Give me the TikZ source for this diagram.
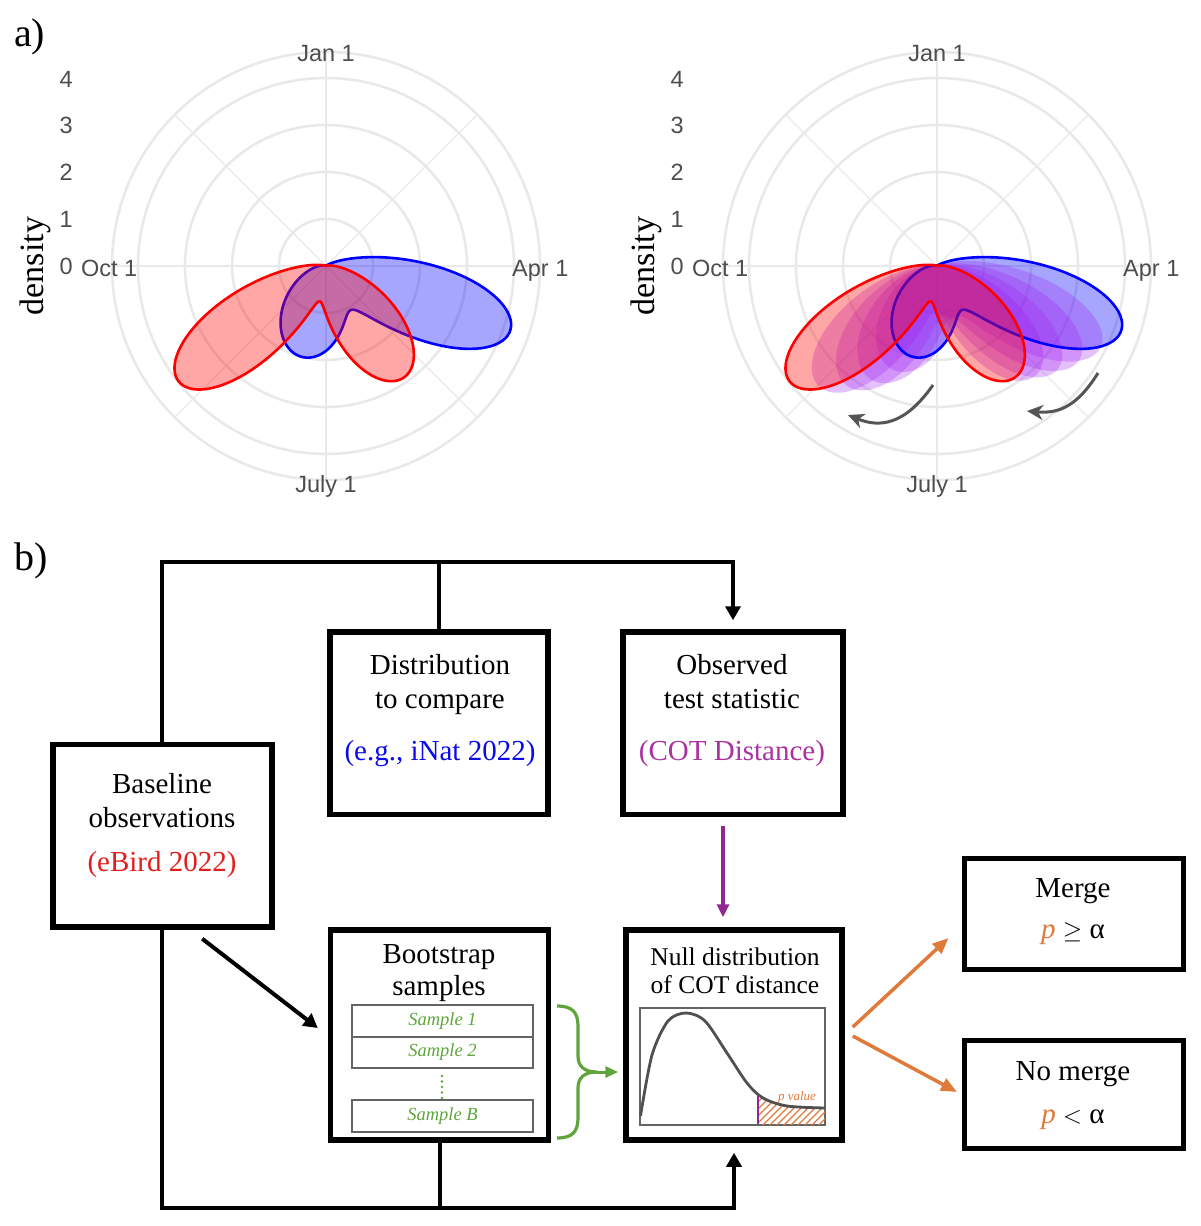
\documentclass[tikz,border=0pt]{standalone}
\usepackage{fontspec}
\setmainfont{Liberation Serif}
\newfontfamily\plotfont{Liberation Sans}
\usetikzlibrary{arrows.meta,calc}

\definecolor{gridc}{RGB}{233,233,233}
\definecolor{labc}{RGB}{77,77,77}
\definecolor{rpurple}{HTML}{A020F0}
\definecolor{txtred}{RGB}{225,30,30}
\definecolor{txtblue}{RGB}{10,10,235}
\definecolor{txtpurp}{RGB}{170,50,160}
\definecolor{grn}{RGB}{95,165,60}
\definecolor{org}{RGB}{224,122,58}
\definecolor{arrpurp}{RGB}{145,40,145}
\definecolor{boxgray}{RGB}{100,100,100}
\definecolor{curvegray}{RGB}{80,80,80}
\definecolor{arrgray}{RGB}{85,85,85}

\begin{document}
\begin{tikzpicture}[x=1pt,y=-1pt,
  declare function={
    gb(\vu,\vm,\vs)=exp(-min(0.5*((\vu-\vm)/\vs)*((\vu-\vm)/\vs),16));
    rb(\vu)=192*gb(\vu,109,17.8)+94*gb(\vu,195,33);
    rr(\vu)=136*gb(\vu,145,23.5)+187*gb(\vu,232,18.5);
    rm(\vu,\vt)=(192-56*\vt)*gb(\vu,109+36*\vt,17.8+5.7*\vt)+(94+93*\vt)*gb(\vu,195+37*\vt,33-14.5*\vt);
  },
  plab/.style={inner sep=0pt, text=labc, font=\plotfont\fontsize{23.5}{24}\selectfont},
  panel/.style={inner sep=0pt, font=\fontsize{40}{40}\selectfont},
  box/.style={draw, line width=5.5pt, minimum width=219pt, inner sep=0pt},
  txt/.style={anchor=base, inner sep=0pt, font=\fontsize{29}{34}\selectfont},
  smalltxt/.style={anchor=base, inner sep=0pt, font=\fontsize{25.5}{30}\selectfont},
  sbox/.style={draw=boxgray, line width=2.2pt, minimum width=181pt, inner sep=0pt, text=grn, font=\itshape\fontsize{18.5}{20}\selectfont},
  conn/.style={line width=4pt},
  arrk/.style={-{Triangle[length=14pt,width=15pt]}},
  garr/.style={arrgray, line width=3pt, -{Stealth[length=16pt,width=15pt,inset=5pt]}},
  oarr/.style={org, line width=3.5pt, -{Triangle[length=16pt,width=13pt]}},
]
\useasboundingbox (0,0) rectangle (1200,1226);

% panel labels
\node[panel, anchor=base west] (la) at (14,46) {a)};
\node[panel, anchor=base west] (lb) at (14,570) {b)};

% ---------- polar grids and labels ----------
\foreach \cx/\pn in {326/p, 937/q} {
  \foreach \r in {47,94,141,188,214}
    \draw[gridc, line width=2.6pt] (\cx,266) circle[radius=\r];
  \draw[gridc, line width=2.6pt] ({\cx-214},266) -- ({\cx+214},266);
  \draw[gridc, line width=2.6pt] (\cx,52) -- (\cx,480);
  \draw[gridc, line width=1.2pt] ({\cx-151.3},114.7) -- ({\cx+151.3},417.3);
  \draw[gridc, line width=1.2pt] ({\cx+151.3},114.7) -- ({\cx-151.3},417.3);
  \node[plab, anchor=base] (jan\pn) at (\cx,61) {Jan 1};
  \node[plab, anchor=base west] (apr\pn) at ({\cx+186},276) {Apr 1};
  \node[plab, anchor=base] (jul\pn) at (\cx,492) {July 1};
  \node[plab, anchor=base east] (oct\pn) at ({\cx-188.5},276) {Oct 1};
  \foreach \k/\yy in {0/274,1/227,2/180,3/133,4/87}
    \node[plab, anchor=base east] (r\k\pn) at ({\cx-253},\yy) {\k};
  \node[rotate=90, inner sep=0pt, font=\fontsize{34}{34}\selectfont] (dens\pn) at ({\cx-291},266) {density};
}

% ---------- plot 1 shapes ----------
\filldraw[draw=blue, fill=blue, fill opacity=0.35, line width=2.6pt, line join=round]
  plot[domain=55:300, samples=246, variable=\x] ({326+rb(\x)*sin(\x)},{266-rb(\x)*cos(\x)}) -- cycle;
\filldraw[draw=red, fill=red, fill opacity=0.35, line width=2.6pt, line join=round]
  plot[domain=55:300, samples=246, variable=\x] ({326+rr(\x)*sin(\x)},{266-rr(\x)*cos(\x)}) -- cycle;

% ---------- plot 2 shapes ----------
\fill[blue, fill opacity=0.35]
  plot[domain=55:300, samples=246, variable=\x] ({937+rb(\x)*sin(\x)},{266-rb(\x)*cos(\x)}) -- cycle;
\foreach \tt in {0.2,0.4,0.6,0.8} {
  \fill[rpurple, fill opacity=0.28]
    plot[domain=55:300, samples=246, variable=\x] ({937+rm(\x,\tt)*sin(\x)},{266-rm(\x,\tt)*cos(\x)}) -- cycle;
}
\draw[blue, line width=2.6pt, line join=round]
  plot[domain=55:300, samples=246, variable=\x] ({937+rb(\x)*sin(\x)},{266-rb(\x)*cos(\x)}) -- cycle;
\filldraw[draw=red, fill=red, fill opacity=0.35, line width=2.6pt, line join=round]
  plot[domain=55:300, samples=246, variable=\x] ({937+rr(\x)*sin(\x)},{266-rr(\x)*cos(\x)}) -- cycle;

\draw[garr] (933,385) .. controls (905,425) and (880,428) .. (848,415);
\draw[garr] (1098,373) .. controls (1078,405) and (1060,414) .. (1027,411);

% ---------- part b boxes ----------
\node[box, minimum height=182.5pt] (base) at (162.25,835.75) {};
\node[box, minimum height=182.5pt, minimum width=218pt] (dist) at (439,723.25) {};
\node[box, minimum height=182.5pt, minimum width=220pt] (obs) at (733,723.25) {};
\node[box, minimum height=210pt, minimum width=218pt] (boot) at (439.5,1035) {};
\node[box, minimum height=210pt, minimum width=216pt] (null) at (734,1035) {};
\node[box, line width=5pt, minimum height=111pt] (merge) at (1073.5,913.5) {};
\node[box, line width=5pt, minimum height=108pt] (nomerge) at (1073.5,1094) {};

% texts
\node[txt] (td1) at (440,674) {Distribution};
\node[txt] (td2) at (440,708) {to compare};
\node[txt, text=txtblue] (td3) at (440,760) {(e.g., iNat 2022)};
\node[txt] (to1) at (732,674) {Observed};
\node[txt] (to2) at (732,708) {test statistic};
\node[txt, text=txtpurp] (to3) at (732,760) {(COT Distance)};
\node[txt] (tb1) at (162,793) {Baseline};
\node[txt] (tb2) at (162,827) {observations};
\node[txt, text=txtred] (tb3) at (162,871) {(eBird 2022)};
\node[txt] (tbs1) at (439,963) {Bootstrap};
\node[txt] (tbs2) at (439,995) {samples};
\node[smalltxt] (tn1) at (735,965) {Null distribution};
\node[smalltxt] (tn2) at (735,993) {of COT distance};
\node[txt] (tm1) at (1073,897) {Merge};
\node[txt] (tm2) at (1073,938) {{\color{org}\itshape p} $\geq$ α};
\node[txt] (tn3) at (1073,1080) {No merge};
\node[txt] (tn4) at (1073,1123) {{\color{org}\itshape p} $<$ α};

% sample boxes
\node[sbox, minimum height=32pt] (s1) at (442.5,1021) {Sample 1};
\node[sbox, minimum height=31pt] (s2) at (442.5,1052.5) {Sample 2};
\node[sbox, minimum height=32pt] (sB) at (442.5,1116) {Sample B};
\foreach \yy in {1076,1081.5,1087,1092.5,1098}
  \fill[grn] (442,\yy) circle[radius=1.4];

% brace and green arrow
\draw[grn, line width=3.2pt] (557,1006) .. controls (572,1006) and (578,1012) .. (578,1026) -- (578,1056)
  .. controls (578,1066) and (584,1072) .. (597,1072)
  .. controls (584,1072) and (578,1078) .. (578,1088) -- (578,1118)
  .. controls (578,1132) and (572,1138) .. (557,1138);
\coordinate (bt) at (596,1072);
\draw[grn, line width=3pt, -{Triangle[length=13pt,width=11pt]}] (bt) -- ($(null.west)+(-5,37)$);

% null distribution chart
\draw[boxgray, line width=2.4pt] (640,1008) rectangle (825,1125);
\begin{scope}
  \clip (758,1097) -- (763,1098.5) -- (775,1103) -- (787,1106) -- (805,1107.5) -- (825,1108) -- (825,1125) -- (758,1125) -- cycle;
  \foreach \i in {0,...,15}
    \draw[org, line width=1.3pt] ({730+\i*7},1130) -- ++(32,-32);
\end{scope}
\draw[curvegray, line width=2.8pt] plot[smooth, tension=0.5] coordinates {(640.5,1116) (652,1055) (668,1021) (686,1013) (705,1021) (727,1053) (747,1083) (763,1098) (787,1106) (825,1108)};
\draw[arrpurp, line width=2.4pt] (758,1096) -- (758,1124);
\node[anchor=base, inner sep=0pt, text=org, font=\itshape\fontsize{13}{13}\selectfont] (pv) at (797,1100) {p value};

% ---------- connectors ----------
\coordinate (ytop) at (0,562);
\coordinate (ybot) at (0,1208);
\draw[conn, arrk, shorten >=9pt] (base.north) -- (base.north |- ytop) -| (obs.north);
\draw[conn] (dist.north) -- (dist.north |- ytop);
\draw[conn, arrk, shorten >=10pt] (base.south) -- (base.south |- ybot) -| (null.south);
\draw[conn] (boot.south) -- (boot.south |- ybot);
\draw[conn, arrk] ($(base.south)+(40,9)$) -- ($(boot.west)+(-10,-7)$);
\draw[arrpurp, line width=3.5pt, -{Triangle[length=13pt,width=12pt]}] ($(obs.south)+(-10,9)$) -- ($(null.north)+(-11,-10)$);
\draw[oarr] ($(null.east)+(8,-8)$) -- ($(merge.west)+(-13,24.5)$);
\draw[oarr] ($(null.east)+(8,1)$) -- ($(nomerge.west)+(-4.5,-2)$);

\end{tikzpicture}
\end{document}
